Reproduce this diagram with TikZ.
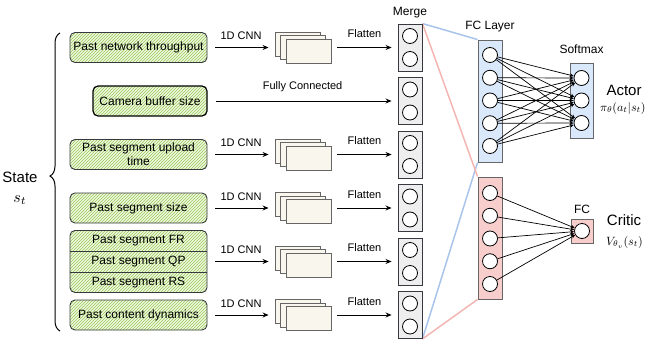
\documentclass[tikz,border=0pt]{standalone}
\usepackage{fontspec}
\setmainfont{Liberation Sans}
\usepackage{amsmath}
\usepackage{graphicx}
\usetikzlibrary{calc,positioning,patterns,arrows.meta,decorations.pathreplacing}
\definecolor{hatch}{HTML}{9BCB5C}
\definecolor{inbg}{HTML}{EEF6DD}
\definecolor{mapfill}{HTML}{F9F7ED}
\definecolor{mergefill}{HTML}{EEEEEE}
\definecolor{fcblue}{HTML}{DAE8FC}
\definecolor{fcred}{HTML}{F8CECC}
\definecolor{lblue}{HTML}{A9C4EB}
\definecolor{lred}{HTML}{F4B6B3}
\definecolor{dark}{HTML}{36393D}

\begin{document}
\begin{tikzpicture}[x=1pt, y=-1pt,
  inbox/.style={draw=dark, line width=0.9pt, rounded corners=5pt,
    preaction={fill=inbg}, pattern=north east lines, pattern color=hatch,
    minimum width=137pt, minimum height=30pt, inner sep=0pt, align=center,
    font=\fontsize{12}{14}\selectfont},
  mapbox/.style={draw=black!60, line width=0.9pt, fill=mapfill,
    minimum width=45pt, minimum height=24pt, inner sep=0pt},
  mergebox/.style={draw=dark, line width=0.9pt, fill=mergefill,
    minimum width=24pt, minimum height=47pt, inner sep=0pt},
  layerbox/.style={draw=black!60, line width=0.9pt, minimum width=24pt, inner sep=0pt},
  neuron/.style={circle, draw=black, line width=0.8pt, fill=white,
    minimum size=15pt, inner sep=0pt},
  arr/.style={-{Stealth[length=6pt,width=5pt]}, line width=0.9pt,
    shorten <=8pt, shorten >=6pt},
  fcarr/.style={-{Stealth[length=4pt,width=3.5pt]}, line width=0.7pt},
  lbl/.style={font=\fontsize{11}{12}\selectfont, inner sep=0pt},
  head/.style={font=\fontsize{12}{13}\selectfont, inner sep=0pt},
  big/.style={font=\fontsize{15}{16}\selectfont, inner sep=0pt},
  mathlbl/.style={inner sep=0pt}]
  \useasboundingbox (0,0) rectangle (647,345);

  % Stato
  \node[big] (state) at (20,177) {State};
  \node[mathlbl] (st) at (20,200) {\scalebox{1.6}{$s_t$}};
  \draw[decorate, decoration={brace, amplitude=10pt, aspect=0.52}, line width=1pt]
    (60,331) -- (60,33);

  % Ingressi
  \node[inbox] (in1) at (138.5,47.5) {Past network throughput};
  \node[inbox, draw=black, line width=1.2pt, minimum width=114pt] (in2) at (150,101) {Camera buffer size};
  \node[inbox] (in3) at (138.5,154.5) {Past segment upload\\time};
  \node[inbox] (in4) at (138.5,208) {Past segment size};
  \node[inbox, minimum height=62pt] (in5) at (138.5,261.5) {};
  \node[inbox, minimum height=30pt] (in6) at (138.5,315) {Past content dynamics};
  \draw[dark, line width=0.9pt] ($(in5.north west)!1/3!(in5.south west)$) -- ($(in5.north east)!1/3!(in5.south east)$);
  \draw[dark, line width=0.9pt] ($(in5.north west)!2/3!(in5.south west)$) -- ($(in5.north east)!2/3!(in5.south east)$);
  \node[font=\fontsize{12}{14}\selectfont] (in5a) at ($(in5.north)!1/6!(in5.south)$) {Past segment FR};
  \node[font=\fontsize{12}{14}\selectfont] (in5b) at (in5) {Past segment QP};
  \node[font=\fontsize{12}{14}\selectfont] (in5c) at ($(in5.north)!5/6!(in5.south)$) {Past segment RS};

  % Fasci lineari verso FC
  \node[mergebox] (mg1) at (410,47.5) {};
  \node[mergebox] (mg6) at (410,315) {};
  \node[layerbox, fill=fcblue, minimum height=122pt] (fca) at (490,101) {};
  \node[layerbox, fill=fcred, minimum height=122pt] (fcb) at (490,238) {};
  \draw[lblue, line width=1.5pt] (mg1.north east) -- (fca.north west);
  \draw[lblue, line width=1.5pt] (mg6.south east) -- (fca.south west);
  \draw[lred, line width=1.5pt] (mg1.north east) -- (fcb.north west);
  \draw[lred, line width=1.5pt] (mg6.south east) -- (fcb.south west);

  % Righe con 1D CNN
  \foreach \r/\y in {1/47.5,3/154.5,4/208,5/261.5,6/315} {
    \node[mapbox] (mapc\r) at (297.5,\y-3.5) {};
    \node[mapbox] (mapb\r) at (303,\y) {};
    \node[mapbox] (mapa\r) at (308.5,\y+3.5) {};
    \node[mergebox] (mg\r) at (410,\y) {};
    \node[neuron] (mg\r a) at (410,\y-11.5) {};
    \node[neuron] (mg\r b) at (410,\y+11.5) {};
    \draw[arr] (in\r.east) -- (mapc\r.west |- in\r.east)
      node[lbl, midway, above=7pt] (cnn\r) {1D CNN};
    \draw[arr, shorten <=6pt] (mapa\r.east |- mg\r.west) -- (mg\r.west)
      node[lbl, midway, above=9pt] (flat\r) {Flatten};
  }

  % Riga del buffer
  \node[mergebox] (mg2) at (410,101) {};
  \node[neuron] (mg2a) at (410,89.5) {};
  \node[neuron] (mg2b) at (410,112.5) {};
  \draw[arr] (in2.east) -- (mg2.west)
    node[lbl, midway, above=9pt] (fcon) {Fully Connected};

  \node[head, above=5pt of mg1] (lmerge) {Merge};
  \node[head, above=7pt of fca] (lfc) {FC Layer};

  % Strati FC
  \foreach \i in {1,...,5} {
    \node[neuron] (fca\i) at (490,55+22.75*\i-22.75) {};
    \node[neuron] (fcb\i) at (490,193+22.75*\i-22.75) {};
  }

  % Actor
  \node[layerbox, fill=fcblue, minimum width=23pt, minimum height=75pt] (sm) at (581.5,100.5) {};
  \foreach \j in {1,2,3}
    \node[neuron] (sm\j) at (581.5,78+22.5*\j-22.5) {};
  \foreach \i in {1,...,5}
    \foreach \j in {1,2,3}
      \draw[fcarr] (fca\i) -- (sm\j);
  \node[head, above=9pt of sm] (lsm) {Softmax};
  \node[big] (actor) at (624,90) {Actor};
  \node[mathlbl, anchor=west] (pi) at (600,108) {\scalebox{1.2}{$\pi_\theta(a_t|s_t)$}};

  % Critic
  \node[layerbox, fill=fcred, minimum width=22pt, minimum height=24pt] (cr) at (582,231) {};
  \node[neuron] (crc) at (582,231) {};
  \foreach \i in {1,...,5}
    \draw[fcarr] (fcb\i) -- (crc);
  \node[head, above=5pt of cr] (lcr) {FC};
  \node[big] (critic) at (624,220) {Critic};
  \node[mathlbl, anchor=west] (vv) at (606,242) {\scalebox{1.2}{$V_{\theta_v}(s_t)$}};
\end{tikzpicture}
\end{document}
